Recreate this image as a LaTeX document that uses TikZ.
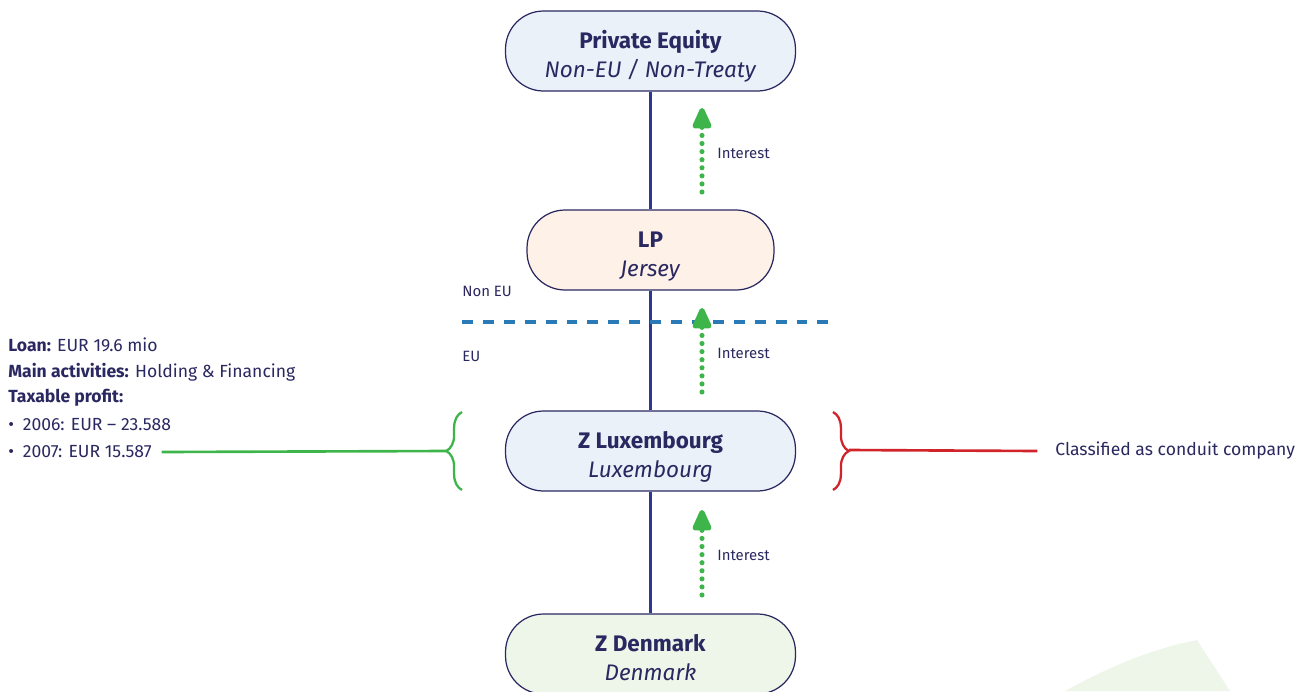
\documentclass[tikz,border=0pt]{standalone}
\usepackage{fontspec}
\setmainfont{Fira Sans}
\usepackage{tikz}
\usetikzlibrary{arrows.meta, positioning, calc, decorations.pathreplacing}

\definecolor{navy}{HTML}{2A2860}
\definecolor{linkblue}{HTML}{2B3990}
\definecolor{euline}{HTML}{2A7AB8}
\definecolor{lgreen}{HTML}{3DB54A}
\definecolor{lred}{HTML}{D0232A}
\definecolor{boxblue}{HTML}{EAF1F9}
\definecolor{boxpeach}{HTML}{FDF1E8}
\definecolor{boxgreen}{HTML}{EEF6EA}

\newcommand{\entlabel}[2]{\rule{0pt}{17.4pt}\textbf{#1}\\\textit{#2}\rule[-3.5pt]{0pt}{3.5pt}}

\begin{document}
\begin{tikzpicture}[
                                        x=0.02cm, y=-0.02cm,
                                        entity/.style={rectangle, rounded corners=0.76cm, draw=navy, line width=0.7pt,
                                                minimum width=5.8cm, minimum height=1.6cm, align=center,
                                                text=navy, font=\fontsize{12.8}{16.6}\selectfont},
                                        interest/.style={lgreen, line width=2.9pt, line cap=round,
                                                dash pattern=on 0pt off 4.6pt,
                                                -{Triangle[width=11.5pt, length=14pt, round=false]}},
                                        lbl/.style={anchor=west, text=navy, inner sep=0pt, font=\fontsize{10}{12}\selectfont},
                                        small/.style={anchor=west, text=navy, inner sep=0pt, font=\fontsize{8.5}{10}\selectfont},
                                        bracket/.style={decorate, decoration={brace, amplitude=9pt}, line width=1.3pt},
                                ]
                                \useasboundingbox (0,0) rectangle (1303,691);
                                % background leaf
                                \fill[boxgreen] (1065,691) .. controls (1110,666) and (1155,648) .. (1197,640) -- (1230,691) -- cycle;

                                % entities
                                \node[entity, fill=boxblue] (pe) at (650.5,51) {\entlabel{Private Equity}{Non-EU / Non-Treaty}};
                                \node[entity, fill=boxpeach, minimum width=4.94cm] (lp) at (650.5,250) {\entlabel{LP}{Jersey}};
                                \node[entity, fill=boxblue] (lux) at (650.5,451) {\entlabel{Z Luxembourg}{Luxembourg}};
                                \node[entity, fill=boxgreen] (den) at (650.5,654) {\entlabel{Z Denmark}{Denmark}};

                                \draw[linkblue, line width=1.3pt] (pe) -- (lp) (lp) -- (lux) (lux) -- (den);

                                % EU border
                                \coordinate (eul) at (462,322);
                                \coordinate (eur) at (833,322);
                                \draw[euline, line width=1.8pt, dash pattern=on 6.2pt off 5.7pt] (eul) -- (eur);
                                \node[small] (noneu) at (462,291) {Non EU};
                                \node[small] (eu) at (462,356) {EU};

                                % interest flows
                                \foreach \n/\ys/\ye in {1/192/108, 2/392/308, 3/595/510} {
                                        \coordinate (s\n) at (702,\ys);
                                        \coordinate (e\n) at (702,\ye);
                                        \draw[interest] (s\n) -- (e\n);
                                        \node[small] (int\n) at (717,\ye+45) {Interest};
                                }

                                % loan details
                                \node[lbl] (loan) at (8,345) {\textbf{Loan:} EUR 19.6 mio};
                                \node[lbl] (main) at (8,372) {\textbf{Main activities:} Holding \& Financing};
                                \node[lbl] (tax) at (8,398) {\textbf{Taxable profit:}};
                                \node[lbl] (y06) at (8,425) {•\hspace{5pt}2006: EUR – 23.588};
                                \node[lbl] (y07) at (8,452) {•\hspace{5pt}2007: EUR 15.587};

                                \coordinate (lbt) at (462,490);
                                \coordinate (lbb) at (462,412);
                                \draw[bracket, lgreen] (lbt) -- (lbb);
                                \coordinate (lbtip) at (446,451);
                                \draw[lgreen, line width=1.5pt] ([xshift=5.5pt]y07.east) -- (lbtip);

                                \coordinate (rbt) at (833,412);
                                \coordinate (rbb) at (833,490);
                                \draw[bracket, lred] (rbt) -- (rbb);
                                \coordinate (rbtip) at (849,450);
                                \node[lbl] (conduit) at (1055,451) {Classified as conduit company};
                                \draw[lred, line width=1.5pt] (rbtip) -- ([xshift=-10pt]conduit.west);
                        \end{tikzpicture}
\end{document}
